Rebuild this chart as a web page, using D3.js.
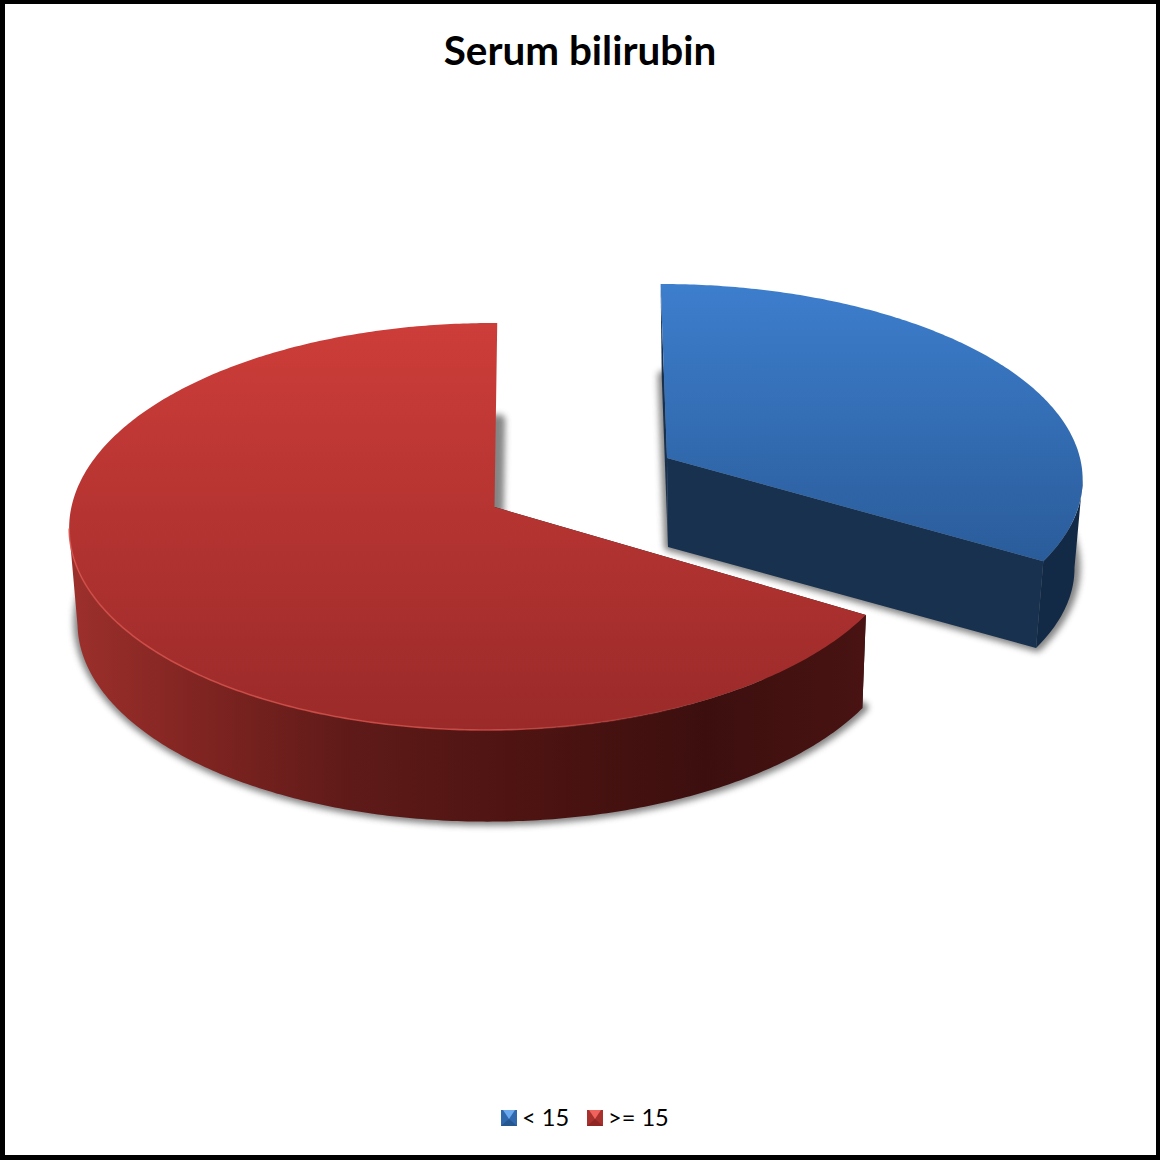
<!DOCTYPE html>
<html>
<head>
<meta charset="utf-8">
<style>
  html, body { margin: 0; padding: 0; background: #fff; }
  svg { display: block; }
  text { font-family: Lato, "Open Sans", sans-serif; fill: #000; }
</style>
<script src="https://cdn.jsdelivr.net/npm/d3@7"></script>
</head>
<body>
<svg id="chart" width="1160" height="1160"></svg>
<script>
// Chart content
const chartTitle = "Serum bilirubin";
const categories = ["< 15", ">= 15"];
const shares = [33.6, 66.4];

// Fill colours per category
const topStops = [["#3d7ecd", "#2a5c9a"], ["#cd3d39", "#9a2a29"]];
const sideFill = ["#17314f", "#2a0c0b"];
const rimStops = [
  [[0, "#132a46"], [1, "#122a45"]],
  [[0, "#9b2f2b"], [0.16, "#7f2421"], [0.35, "#5e1a18"], [0.55, "#4f1412"], [0.8, "#3c0f0e"], [1, "#481312"]]
];
const legendSwatch = [
  { top: "#6aa9ee", side: "#2f68ad", bottom: "#24568f" },
  { top: "#f0625c", side: "#a8302d", bottom: "#8f2624" }
];

// Camera model for each wedge: the flat pie is tilted and seen in perspective
const wedgeView = [
  { ax: 667, ay: 458, sx: 413, sy: 190.7, p: 0.0958, r: 0, q: 7, h: 89, k: 0.978, bx: 1, closingFace: true },
  { ax: 494.5, ay: 507, sx: 418, sy: 201.6, p: 0.0958, r: 0.012, q: -3, h: 95, k: 0.985, bx: 2, closingFace: false }
];

const svg = d3.select("#chart");
const defs = svg.append("defs");

// Outer frame, slightly uneven as on the finished sheet
svg.append("rect").attr("width", 1160).attr("height", 1160).attr("fill", "#000");
svg.append("rect").attr("x", 5).attr("y", 4).attr("width", 1151).attr("height", 1151).attr("fill", "#fff");

const pie = d3.pie().sort(null).value(d => d);
const arcs = pie(shares);

// Project a point of the unit disc on the top face
function projectTop(view, angle, radius) {
  const u = radius * Math.sin(angle);
  const v = -radius * Math.cos(angle);
  const w = 1 - view.p * v + view.r * u;
  return [view.ax + (view.sx * u + view.q * v) / w, view.ay + view.sy * v / w];
}
// The lower face sits under the top one, drawn in very slightly
function projectBottom(view, angle, radius) {
  const [x, y] = projectTop(view, angle, radius);
  return [view.ax + view.bx + view.k * (x - view.ax), view.ay + view.h + view.k * (y - view.ay)];
}
const line = d3.line();
const angles = (a0, a1) => {
  const n = Math.max(2, Math.ceil((a1 - a0) * 90));
  return d3.range(n + 1).map(i => a0 + (a1 - a0) * i / n);
};

// Gradients
arcs.forEach((arc, i) => {
  const view = wedgeView[i];
  const ys = angles(arc.startAngle, arc.endAngle).map(a => projectTop(view, a, 1)[1]);
  const g = defs.append("linearGradient").attr("id", "top" + i)
    .attr("gradientUnits", "userSpaceOnUse")
    .attr("x1", 0).attr("x2", 0).attr("y1", d3.min(ys)).attr("y2", d3.max(ys));
  g.append("stop").attr("offset", 0).attr("stop-color", topStops[i][0]);
  g.append("stop").attr("offset", 1).attr("stop-color", topStops[i][1]);

  const xs = angles(arc.startAngle, arc.endAngle).map(a => projectBottom(view, a, 1)[0]);
  const rg = defs.append("linearGradient").attr("id", "rim" + i)
    .attr("gradientUnits", "userSpaceOnUse")
    .attr("y1", 0).attr("y2", 0)
    .attr("x1", d3.min(xs)).attr("x2", d3.max(xs));
  rimStops[i].forEach(s => rg.append("stop").attr("offset", s[0]).attr("stop-color", s[1]));
});

// Highlight fades out toward the right of the front edge
const glow = defs.append("linearGradient").attr("id", "edgeGlow")
  .attr("gradientUnits", "userSpaceOnUse")
  .attr("x1", 70).attr("x2", 720).attr("y1", 0).attr("y2", 0);
glow.append("stop").attr("offset", 0).attr("stop-color", "#d9524c").attr("stop-opacity", 0.8);
glow.append("stop").attr("offset", 0.65).attr("stop-color", "#d9524c").attr("stop-opacity", 0.75);
glow.append("stop").attr("offset", 1).attr("stop-color", "#d9524c").attr("stop-opacity", 0);

const blur = defs.append("filter").attr("id", "soft")
  .attr("x", "-10%").attr("y", "-10%").attr("width", "120%").attr("height", "120%");
blur.append("feGaussianBlur").attr("stdDeviation", 3);

// Wedges, back one first
arcs.forEach((arc, i) => {
  const view = wedgeView[i];
  const sweep = angles(arc.startAngle, arc.endAngle);
  const topArc = sweep.map(a => projectTop(view, a, 1));
  const bottomArc = sweep.map(a => projectBottom(view, a, 1));
  const topApex = projectTop(view, 0, 0);
  const bottomApex = projectBottom(view, 0, 0);
  const g = svg.append("g").attr("class", "wedge");

  // The outer wall only shows between the two silhouette generators
  const side = a => {
    const t = projectTop(view, a, 1);
    const b = projectBottom(view, a, 1);
    return (t[0] - view.ax) * (b[1] - t[1]) - (t[1] - view.ay) * (b[0] - t[0]);
  };
  const limit = i === 0
    ? d3.greatest(sweep, side)
    : d3.least(sweep, side);
  const wall = i === 0 ? sweep.filter(a => a >= limit) : sweep.filter(a => a <= limit);

  // soft shadow under the solid
  g.append("path")
    .attr("d", line([bottomApex, ...bottomArc]) + "Z")
    .attr("transform", "translate(1,-1)")
    .attr("fill", "#666").attr("stroke", "#666").attr("stroke-width", 10)
    .attr("stroke-linejoin", "round")
    .attr("opacity", 0.8)
    .attr("filter", "url(#soft)");

  // flat cut faces
  g.append("path")
    .attr("d", line([topApex, topArc[0], bottomArc[0], bottomApex]) + "Z")
    .attr("fill", sideFill[i]);
  if (view.closingFace) {
    g.append("path")
      .attr("d", line([topApex, topArc[topArc.length - 1], bottomArc[bottomArc.length - 1], bottomApex]) + "Z")
      .attr("fill", sideFill[i]);
  }

  // curved outer wall
  g.append("path")
    .attr("d", line([
      ...wall.map(a => projectTop(view, a, 1)),
      ...wall.slice().reverse().map(a => projectBottom(view, a, 1))
    ]) + "Z")
    .attr("fill", `url(#rim${i})`);

  // top face
  g.append("path")
    .attr("d", line([topApex, ...topArc]) + "Z")
    .attr("fill", `url(#top${i})`);

  // pale highlight along the front edge of the large wedge
  if (i === 1) {
    const front = sweep.filter(a => a > Math.PI * 0.85 && a < Math.PI * 1.47)
      .map(a => projectTop(view, a, 1));
    g.append("path").attr("d", line(front)).attr("fill", "none")
      .attr("stroke", "url(#edgeGlow)").attr("stroke-width", 1.6);
  }
});

// Title
svg.append("text")
  .attr("x", 580).attr("y", 65)
  .attr("text-anchor", "middle")
  .attr("font-size", 40.4).attr("font-weight", 700)
  .text(chartTitle);

// Legend
const legendBoxX = d3.scaleOrdinal().domain(categories).range([501, 587]);
const swatchSize = 16;
const legendY = 1110;
categories.forEach((name, i) => {
  const x = legendBoxX(name);
  const s = swatchSize;
  const y = legendY;
  const mid = [x + s / 2, y + s / 2 + 1];
  const g = svg.append("g").attr("class", "legend-item");
  g.append("rect").attr("x", x).attr("y", y).attr("width", s).attr("height", s)
    .attr("fill", legendSwatch[i].side);
  g.append("path").attr("d", line([[x, y + s], [x + s, y + s], mid]) + "Z").attr("fill", legendSwatch[i].bottom);
  g.append("path").attr("d", line([[x + 2, y], [x + s - 2, y], mid]) + "Z").attr("fill", legendSwatch[i].top);
  g.append("text").attr("x", x + s + 5).attr("y", 1126)
    .attr("font-size", 23.6).text(name);
});
</script>
</body>
</html>
